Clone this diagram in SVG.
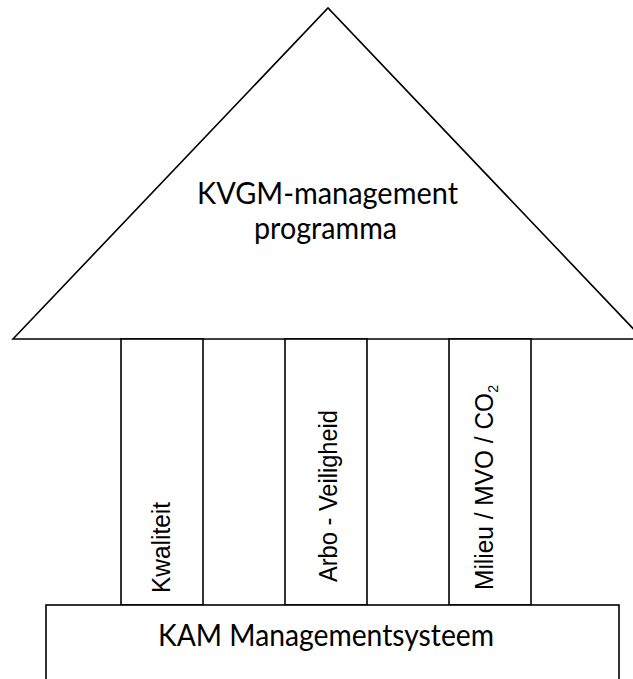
<svg xmlns="http://www.w3.org/2000/svg" width="633" height="679" viewBox="0 0 633 679">
<style>
.shape{fill:#fff;stroke:#000;stroke-width:1.6}
.title{font-family:Lato,"Open Sans","Liberation Sans",sans-serif;font-size:31px;fill:#000}
.pil{font-family:"Liberation Sans",Arial,sans-serif;font-size:26px;fill:#000}
</style>
<rect width="633" height="679" fill="#fff"/>
<g id="roof">
<polygon class="shape" points="13,339 328,8 643,339"/>
<text class="title" x="197" y="204" textLength="261" lengthAdjust="spacingAndGlyphs">KVGM-management</text>
<text class="title" x="254" y="239" textLength="143" lengthAdjust="spacingAndGlyphs">programma</text>
</g>
<g id="pillar-kwaliteit">
<rect class="shape" x="121" y="339" width="82" height="266"/>
<text class="pil" transform="translate(170,593) rotate(-90)" textLength="91" lengthAdjust="spacingAndGlyphs">Kwaliteit</text>
</g>
<g id="pillar-arbo">
<rect class="shape" x="285" y="339" width="82" height="266"/>
<text class="pil" transform="translate(337,582) rotate(-90)" textLength="172" lengthAdjust="spacingAndGlyphs">Arbo - Veiligheid</text>
</g>
<g id="pillar-milieu">
<rect class="shape" x="449" y="339" width="82" height="266"/>
<text class="pil" transform="translate(493,590) rotate(-90)" textLength="205" lengthAdjust="spacingAndGlyphs">Milieu / MVO / CO<tspan font-size="15" dy="5">2</tspan></text>
</g>
<g id="connectors"></g>
<g id="base">
<rect class="shape" x="46" y="605" width="573" height="90"/>
<text class="title" x="158" y="646" font-size="29" textLength="336" lengthAdjust="spacingAndGlyphs">KAM Managementsysteem</text>
</g>
</svg>
